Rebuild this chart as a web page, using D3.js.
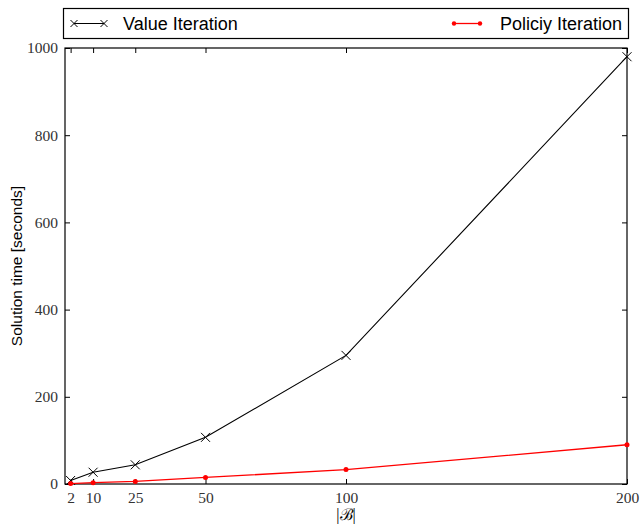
<!DOCTYPE html>
<html>
<head>
<meta charset="utf-8">
<script src="https://cdn.jsdelivr.net/npm/d3@7"></script>
<style>
  body { margin: 0; background: #fff; }
</style>
</head>
<body>
<div id="chart"></div>
<script>
// Data
const sizes = [2, 10, 25, 50, 100, 200];
const valueIteration = [8, 27, 44, 107, 295, 980];
const policyIteration = [1, 3, 6, 15, 33, 90];
const yTicks = [0, 200, 400, 600, 800, 1000];

const width = 640, height = 525;
const margin = { left: 65, right: 13, top: 48, bottom: 41 };

const svg = d3.select("#chart").append("svg")
  .attr("width", width)
  .attr("height", height);

const x = d3.scaleLinear().domain([0, 200]).range([margin.left, width - margin.right]);
const y = d3.scaleLinear().domain([0, 1000]).range([height - margin.bottom, margin.top]);

const serif = "'Liberation Serif', 'DejaVu Serif', serif";
const sans = "'Liberation Sans', Arial, sans-serif";

// Axes: ticks point inward on all four sides
const axisBottomG = svg.append("g")
  .attr("transform", `translate(0,${y(0)})`)
  .call(d3.axisBottom(x).tickValues(sizes).tickSize(-5).tickPadding(8));
const axisTopG = svg.append("g")
  .attr("transform", `translate(0,${y(1000)})`)
  .call(d3.axisTop(x).tickValues(sizes).tickSize(-5).tickFormat(""));
const axisLeftG = svg.append("g")
  .attr("transform", `translate(${x(0)},0)`)
  .call(d3.axisLeft(y).tickValues(yTicks).tickFormat(d3.format("d")).tickSize(-5).tickPadding(7));
const axisRightG = svg.append("g")
  .attr("transform", `translate(${x(200)},0)`)
  .call(d3.axisRight(y).tickValues(yTicks).tickSize(-5).tickFormat(""));

[axisBottomG, axisTopG, axisLeftG, axisRightG].forEach(g => {
  g.select(".domain").remove();
  g.selectAll(".tick line").attr("stroke", "#000").attr("stroke-width", 1);
  g.selectAll("text").style("font-family", serif).style("font-size", "15.5px").attr("fill", "#333");
});

// Frame
svg.append("rect")
  .attr("x", x(0)).attr("y", y(1000))
  .attr("width", x(200) - x(0)).attr("height", y(0) - y(1000))
  .attr("fill", "none").attr("stroke", "#000").attr("stroke-width", 1.2);

const line = d3.line().x((d, i) => x(sizes[i])).y(d => y(d));

// Value iteration: black line with x markers
svg.append("path")
  .datum(valueIteration)
  .attr("d", line)
  .attr("fill", "none").attr("stroke", "#000").attr("stroke-width", 1.1);

function cross(g, cx, cy, s) {
  g.append("path")
    .attr("d", `M${cx - s},${cy - s}L${cx + s},${cy + s}M${cx - s},${cy + s}L${cx + s},${cy - s}`)
    .attr("stroke", "#000").attr("stroke-width", 1).attr("fill", "none");
}
const vMarks = svg.append("g");
valueIteration.forEach((v, i) => cross(vMarks, x(sizes[i]), y(v), 4.5));

// Policy iteration: red line with dots
svg.append("path")
  .datum(policyIteration)
  .attr("d", line)
  .attr("fill", "none").attr("stroke", "#ff0000").attr("stroke-width", 1.3);

svg.append("g").selectAll("circle")
  .data(policyIteration)
  .enter().append("circle")
  .attr("cx", (d, i) => x(sizes[i]))
  .attr("cy", d => y(d))
  .attr("r", 2.5)
  .attr("fill", "#ff0000");

// Axis labels
svg.append("text")
  .attr("x", (x(0) + x(200)) / 2)
  .attr("y", 520)
  .attr("text-anchor", "middle")
  .style("font-family", serif)
  .style("font-size", "16px")
  .text("|ℬ|");

svg.append("text")
  .attr("transform", `translate(22,${(y(0) + y(1000)) / 2}) rotate(-90)`)
  .attr("text-anchor", "middle")
  .style("font-family", sans)
  .style("font-size", "15.5px")
  .text("Solution time [seconds]");

// Legend
const legend = svg.append("g");
legend.append("rect")
  .attr("x", 63.5).attr("y", 8.5).attr("width", 565).attr("height", 30)
  .attr("fill", "#fff").attr("stroke", "#000").attr("stroke-width", 1.2);

legend.append("line")
  .attr("x1", 74).attr("x2", 104).attr("y1", 23.5).attr("y2", 23.5)
  .attr("stroke", "#000").attr("stroke-width", 1);
cross(legend, 74, 23.5, 3.5);
cross(legend, 104, 23.5, 3.5);
legend.append("text")
  .attr("x", 123).attr("y", 29.5)
  .style("font-family", sans).style("font-size", "18px")
  .text("Value Iteration");

legend.append("line")
  .attr("x1", 454).attr("x2", 480).attr("y1", 23.5).attr("y2", 23.5)
  .attr("stroke", "#ff0000").attr("stroke-width", 1.3);
legend.selectAll(".pdot")
  .data([454, 480])
  .enter().append("circle")
  .attr("cx", d => d).attr("cy", 23.5).attr("r", 2.2)
  .attr("fill", "#ff0000");
legend.append("text")
  .attr("x", 500).attr("y", 29.5)
  .style("font-family", sans).style("font-size", "18px")
  .text("Policiy Iteration");
</script>
</body>
</html>
